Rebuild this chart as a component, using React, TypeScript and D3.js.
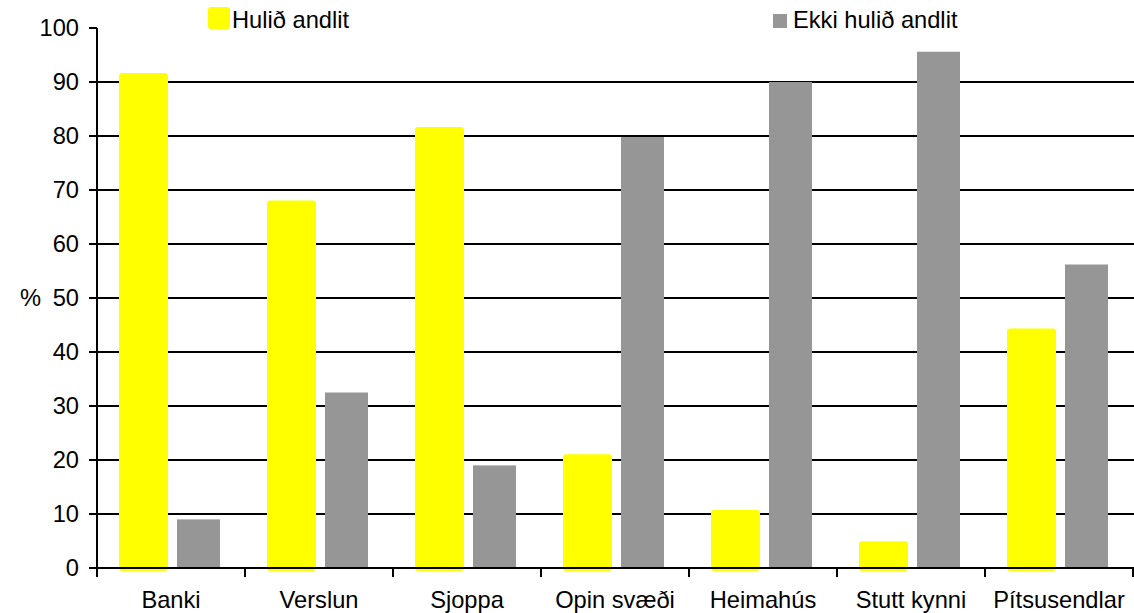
import React from 'react';
import * as d3 from 'd3';

const categories = ['Banki', 'Verslun', 'Sjoppa', 'Opin svæði', 'Heimahús', 'Stutt kynni', 'Pítsusendlar'];
const series = ['Hulið andlit', 'Ekki hulið andlit'];
const hulid = [91.1, 67.5, 81.1, 20.5, 10.2, 4.4, 43.8];
const ekkiHulid = [9, 32.5, 19, 79.8, 90, 95.6, 56.2];
const yTicks = [0, 10, 20, 30, 40, 50, 60, 70, 80, 90, 100];

const W = 1134;
const H = 613;
const FONT = 'Liberation Sans, Arial, sans-serif';
const FS = 23;
const SX = 1.03; // text in the source looks a little stretched sideways

const yellow = '#ffff00';
const grey = '#969696';

const T = ({ x, y, anchor, children }: { x: number; y: number; anchor?: string; children: React.ReactNode }) => (
  <text
    transform={`translate(${x},${y}) scale(${SX},1)`}
    textAnchor={anchor || 'start'}
    fontFamily={FONT}
    fontSize={FS}
    fill="#000"
  >
    {children}
  </text>
);

export default function App() {
  const x = d3.scaleBand<string>().domain(categories).range([97, 1133]).padding(0);
  const inner = d3
    .scaleBand<string>()
    .domain(series)
    .range([0, x.bandwidth()])
    .paddingInner(12 / 55)
    .paddingOuter(0.4545);
  const y = d3.scaleLinear().domain([0, 100]).range([568, 28]);
  const values = [hulid, ekkiHulid];

  return (
    <svg width={W} height={H} style={{ position: 'absolute', left: 0, top: 0, background: '#fff' }}>
      {/* gridlines */}
      {yTicks.filter((t) => t > 0 && t < 100).map((t) => (
        <line key={'g' + t} x1={97} x2={1134} y1={y(t)} y2={y(t)} stroke="#000" strokeWidth={2} />
      ))}

      {/* bars */}
      {categories.map((c, i) => (
        <g key={c} transform={`translate(${x(c)},0)`}>
          <rect
            x={inner(series[0])}
            y={y(hulid[i])}
            width={inner.bandwidth()}
            height={y(0) - y(hulid[i])}
            fill={yellow}
            stroke={yellow}
            strokeWidth={6}
            strokeLinejoin="round"
          />
          <rect
            x={inner(series[1])}
            y={y(values[1][i])}
            width={inner.bandwidth()}
            height={y(0) - y(values[1][i])}
            fill={grey}
          />
        </g>
      ))}

      {/* axes */}
      <line x1={97} x2={97} y1={y(100)} y2={577} stroke="#000" strokeWidth={2} />
      <line x1={97} x2={1134} y1={y(0)} y2={y(0)} stroke="#000" strokeWidth={2} />
      {yTicks.map((t) => (
        <g key={'t' + t}>
          <line x1={89} x2={97} y1={y(t)} y2={y(t)} stroke="#000" strokeWidth={2} />
          <T x={79} y={y(t) + 8} anchor="end">{t}</T>
        </g>
      ))}
      {categories.map((c) => (
        <line key={'xt' + c} x1={x(c)! + x.bandwidth()} x2={x(c)! + x.bandwidth()} y1={y(0)} y2={577} stroke="#000" strokeWidth={2} />
      ))}
      {categories.map((c) => (
        <T key={'l' + c} x={x(c)! + x.bandwidth() / 2} y={608} anchor="middle">{c}</T>
      ))}
      <T x={20} y={y(50) + 8}>%</T>

      {/* legend */}
      <rect x={211} y={10} width={16} height={16} fill={yellow} stroke={yellow} strokeWidth={6} strokeLinejoin="round" />
      <T x={232} y={28}>{series[0]}</T>
      <rect x={773} y={14} width={14} height={14} fill={grey} />
      <T x={793} y={28}>{series[1]}</T>
    </svg>
  );
}
